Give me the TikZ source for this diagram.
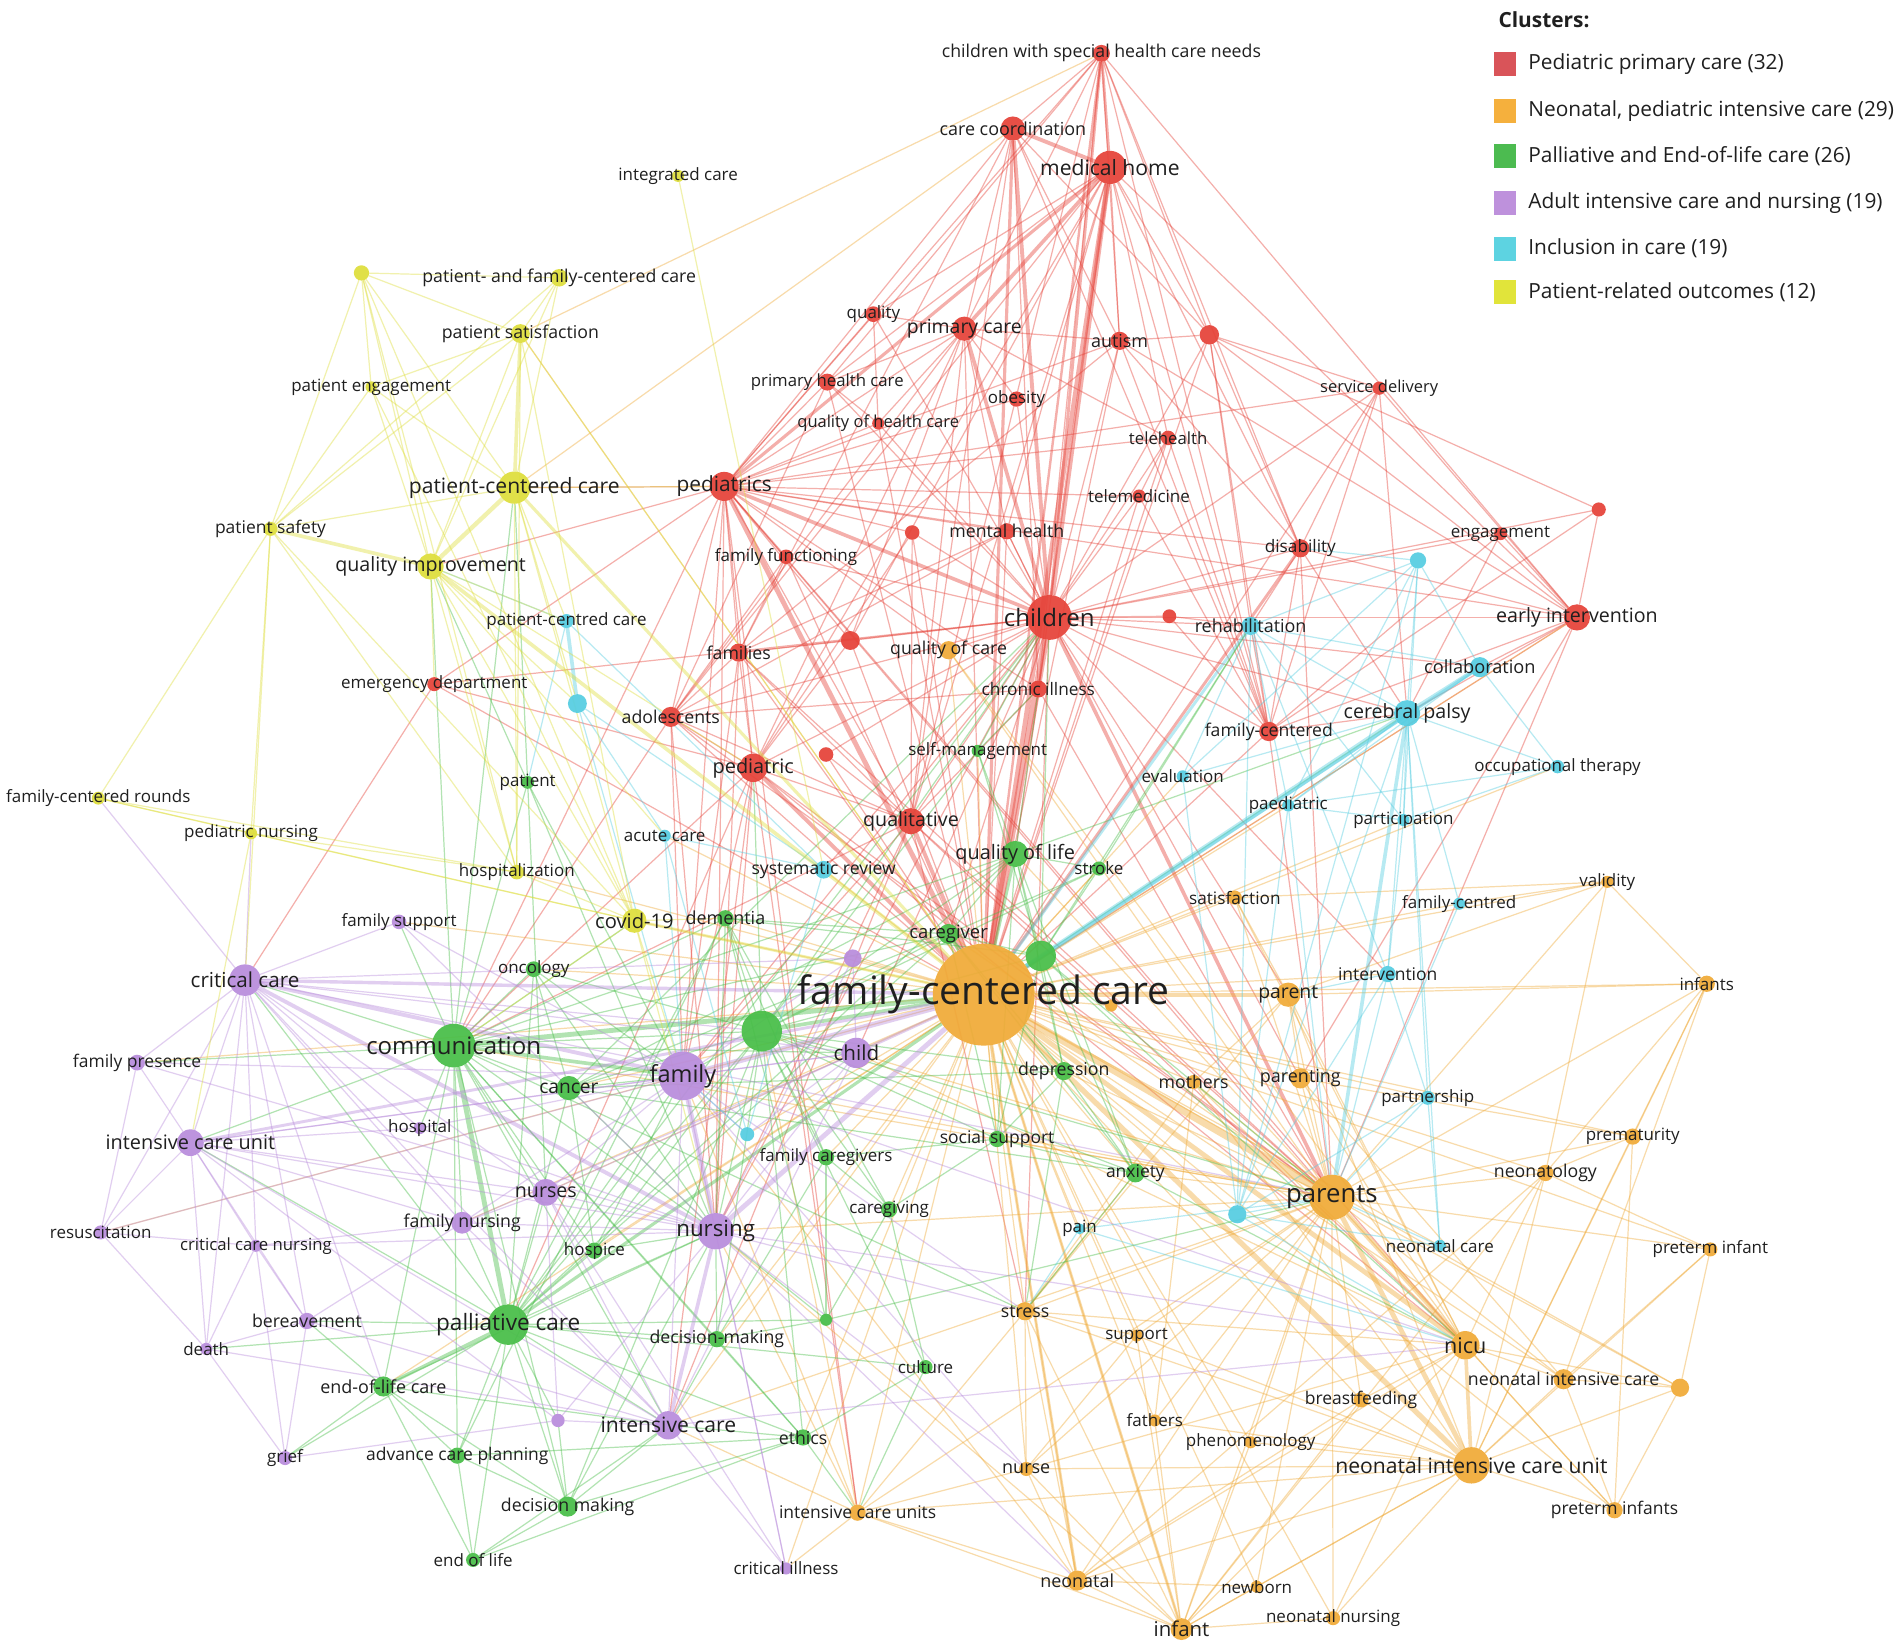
\documentclass[tikz,border=0pt]{standalone}
\usepackage{fontspec}
\setmainfont{Open Sans}
\pgfdeclarelayer{back}\pgfdeclarelayer{bg}\pgfdeclarelayer{fg}\pgfsetlayers{back,bg,main,fg}
\definecolor{colR}{RGB}{230,66,56}
\definecolor{colO}{RGB}{240,170,55}
\definecolor{colG}{RGB}{72,190,72}
\definecolor{colP}{RGB}{185,140,220}
\definecolor{colC}{RGB}{85,205,225}
\definecolor{colY}{RGB}{222,222,60}
\definecolor{legR}{RGB}{217,84,89}
\definecolor{legO}{RGB}{245,176,61}
\definecolor{legG}{RGB}{76,187,80}
\definecolor{legP}{RGB}{190,145,220}
\definecolor{legC}{RGB}{93,211,225}
\definecolor{legY}{RGB}{225,228,58}
\tikzset{
  kdot/.style={circle, inner sep=0pt, outer sep=0pt, draw=none, fill opacity=0.93},
  klab/.style={inner sep=0pt, text=black!88, anchor=center},
  kedge/.style={line width=0.5pt, draw opacity=0.42},
  legbox/.style={draw=none, minimum width=9pt, minimum height=10pt, inner sep=0pt},
  legtext/.style={anchor=west, inner sep=0pt, text=black!88, font=\fontsize{8.6}{8.6}\selectfont},
}
\newcommand\kn[7]{\node[kdot, fill=#4, minimum size=#5pt] (#1) at (#2,#3) {};
\begin{pgfonlayer}{fg}\node[klab, font=\fontsize{#6}{#6}\selectfont] (#1-l) at (#2,#3) {#7};\end{pgfonlayer}}
\newcommand\ked[2]{\foreach \ea/\eb in {#2} {\draw[kedge, draw=#1] (\ea) -- (\eb);}}
\newcommand\kedw[2]{\foreach \ea/\eb/\ew in {#2} {\draw[kedge, draw=#1, line width=\ew pt] (\ea) -- (\eb);}}
\begin{document}
\begin{tikzpicture}[x=0.5pt, y=-0.5pt]
\begin{pgfonlayer}{back}
\fill[white] (0,0) rectangle (1568,1361);
\end{pgfonlayer}
\useasboundingbox (0,0) rectangle (1568,1361);
% ---------- red
\kn{cshcn}{908}{44}{colR}{7}{7.3}{children with special health care needs}
\kn{carecoord}{835}{106}{colR}{10}{7.4}{care coordination}
\kn{medhome}{915}{138}{colR}{13.7}{8.7}{medical home}
\kn{quality}{720}{259}{colR}{6.5}{7}{quality}
\kn{primcare}{795}{271}{colR}{10}{8}{primary care}
\kn{autism}{923}{281}{colR}{7.5}{7.4}{autism}
\kn{rA}{997}{276}{colR}{8}{7}{}
\kn{phc}{682}{315}{colR}{7}{6.9}{primary health care}
\kn{obesity}{838}{329}{colR}{6.3}{7}{obesity}
\kn{qhc}{724}{349}{colR}{5}{6.8}{quality of health care}
\kn{servdel}{1137}{320}{colR}{5.5}{6.8}{service delivery}
\kn{telehealth}{963}{361}{colR}{6}{6.9}{telehealth}
\kn{pediatrics}{597}{401}{colR}{12}{8.6}{pediatrics}
\kn{telemed}{939}{409}{colR}{5.5}{7}{telemedicine}
\kn{rB}{752}{439}{colR}{6}{7}{}
\kn{menthealth}{830}{438}{colR}{6.7}{7.3}{mental health}
\kn{engagement}{1237}{440}{colR}{5.3}{7}{engagement}
\kn{rC}{1318}{420}{colR}{5.8}{7}{}
\kn{famfunc}{648}{459}{colR}{6}{7}{family functioning}
\kn{disability}{1072}{452}{colR}{7.5}{7.1}{disability}
\kn{children}{865}{509}{colR}{18.5}{9.9}{children}
\kn{rD}{964}{508}{colR}{5.7}{7}{}
\kn{earlyint}{1300}{509}{colR}{10.8}{8.1}{early intervention}
\kn{families}{609}{538}{colR}{7.5}{7.3}{families}
\kn{rE}{701}{528}{colR}{7.8}{7}{}
\kn{emergdept}{358}{564}{colR}{5.8}{7}{emergency department}
\kn{chronic}{856}{568}{colR}{7}{7.1}{chronic illness}
\kn{adolescents}{553}{591}{colR}{8.3}{7.3}{adolescents}
\kn{famcentered}{1046}{603}{colR}{8}{7.25}{family-centered}
\kn{pediatric}{621}{633}{colR}{11.7}{8.2}{pediatric}
\kn{rF}{681}{622}{colR}{6}{7}{}
\kn{qualitative}{751}{677}{colR}{10.8}{8.1}{qualitative}
% ---------- orange
\kn{fcc}{811}{820}{colO}{42}{16.1}{family-centered care}
\kn{qoc}{782}{536}{colO}{7.5}{7.3}{quality of care}
\kn{satisf}{1018}{740}{colO}{5.8}{7.1}{satisfaction}
\kn{validity}{1325}{727}{colO}{5}{7}{validity}
\kn{parent}{1062}{820}{colO}{10}{8}{parent}
\kn{infants}{1407}{811}{colO}{6.7}{7}{infants}
\kn{mothers}{984}{892}{colO}{5.8}{7.3}{mothers}
\kn{parenting}{1072}{889}{colO}{8.3}{7.4}{parenting}
\kn{prematurity}{1346}{937}{colO}{6.7}{7}{prematurity}
\kn{parents}{1098}{987}{colO}{18.6}{10.6}{parents}
\kn{neonatology}{1274}{967}{colO}{6.7}{7.3}{neonatology}
\kn{pretinf}{1410}{1030}{colO}{5.8}{7}{preterm infant}
\kn{stress}{845}{1081}{colO}{7.5}{7.3}{stress}
\kn{support}{937}{1101}{colO}{5}{7}{support}
\kn{nicu}{1208}{1109}{colO}{11.7}{8.9}{nicu}
\kn{nic}{1289}{1137}{colO}{8.3}{7.3}{neonatal intensive care}
\kn{oA}{1385}{1144}{colO}{7.5}{7}{}
\kn{breastf}{1122}{1154}{colO}{6.3}{7.2}{breastfeeding}
\kn{fathers}{952}{1171}{colO}{5}{7}{fathers}
\kn{phenom}{1031}{1189}{colO}{5}{7}{phenomenology}
\kn{nurse}{846}{1211}{colO}{5.8}{7.4}{nurse}
\kn{nicuu}{1213}{1208}{colO}{15}{8.7}{neonatal intensive care unit}
\kn{icus}{707}{1247}{colO}{6.7}{7.2}{intensive care units}
\kn{pretinfs}{1331}{1245}{colO}{6.7}{7.2}{preterm infants}
\kn{neonatal}{888}{1303}{colO}{8.3}{7.4}{neonatal}
\kn{newborn}{1036}{1308}{colO}{5}{7}{newborn}
\kn{neonurs}{1099}{1334}{colO}{5.8}{7}{neonatal nursing}
\kn{infant}{974}{1343}{colO}{9}{8.4}{infant}
\kn{oB}{916}{829}{colO}{5}{7}{}
% ---------- green
\kn{selfman}{806}{619}{colG}{5}{7}{self-management}
\kn{patient}{435}{645}{colG}{5.3}{7}{patient}
\kn{qol}{837}{704}{colG}{10.8}{8.2}{quality of life}
\kn{stroke}{906}{716}{colG}{5.8}{7}{stroke}
\kn{dementia}{598}{757}{colG}{6.7}{7.4}{dementia}
\kn{caregiver}{782}{770}{colG}{8.3}{7.6}{caregiver}
\kn{gA}{858}{788}{colG}{12.5}{7}{}
\kn{oncology}{440}{799}{colG}{6.5}{7}{oncology}
\kn{gB}{628}{850}{colG}{16.7}{7}{}
\kn{communication}{374}{862}{colG}{18}{9.9}{communication}
\kn{depression}{877}{883}{colG}{7.5}{7.3}{depression}
\kn{cancer}{469}{897}{colG}{10}{7.9}{cancer}
\kn{socsup}{822}{939}{colG}{6.7}{7.2}{social support}
\kn{famcare}{681}{954}{colG}{6.7}{7}{family caregivers}
\kn{anxiety}{936}{967}{colG}{7.8}{7.2}{anxiety}
\kn{caregiving}{733}{997}{colG}{6.7}{7}{caregiving}
\kn{hospice}{490}{1031}{colG}{6.7}{7}{hospice}
\kn{palliative}{419}{1092}{colG}{16.7}{9.3}{palliative care}
\kn{decmaking}{591}{1104}{colG}{6.7}{7.3}{decision-making}
\kn{gC}{681}{1088}{colG}{5}{7}{}
\kn{culture}{763}{1127}{colG}{5.8}{7}{culture}
\kn{eolc}{316}{1143}{colG}{8.3}{7.4}{end-of-life care}
\kn{ethics}{662}{1185}{colG}{6.7}{7.3}{ethics}
\kn{acp}{377}{1200}{colG}{6.7}{7.2}{advance care planning}
\kn{decmaking2}{468}{1242}{colG}{8.3}{7.3}{decision making}
\kn{eol}{390}{1286}{colG}{5.8}{7}{end of life}
% ---------- purple
\kn{famsupport}{329}{760}{colP}{6}{7}{family support}
\kn{pA}{703}{790}{colP}{7.3}{7}{}
\kn{critcare}{202}{808}{colP}{13}{8.5}{critical care}
\kn{child}{706}{868}{colP}{12.5}{8.5}{child}
\kn{fampresence}{113}{876}{colP}{6.5}{7.2}{family presence}
\kn{family}{563}{887}{colP}{20}{9.7}{family}
\kn{icu}{157}{942}{colP}{11}{8.2}{intensive care unit}
\kn{hospital}{346}{930}{colP}{5}{7}{hospital}
\kn{nurses}{450}{983}{colP}{11}{8.1}{nurses}
\kn{resusc}{83}{1016}{colP}{5.8}{7}{resuscitation}
\kn{famnursing}{381}{1008}{colP}{9}{7.3}{family nursing}
\kn{nursing}{590}{1015}{colP}{15}{9.2}{nursing}
\kn{ccn}{211}{1027}{colP}{5}{6.9}{critical care nursing}
\kn{bereavement}{253}{1089}{colP}{6.7}{7.3}{bereavement}
\kn{death}{170}{1112}{colP}{5}{7}{death}
\kn{pB}{460}{1171}{colP}{5.5}{7}{}
\kn{intcare}{551}{1175}{colP}{11.7}{8.7}{intensive care}
\kn{grief}{235}{1202}{colP}{5.8}{7}{grief}
\kn{critill}{648}{1293}{colP}{5}{7}{critical illness}
% ---------- cyan
\kn{cA}{1169}{462}{colC}{6.7}{7}{}
\kn{pcc2}{467}{512}{colC}{5.8}{7}{patient-centred care}
\kn{rehab}{1031}{516}{colC}{7.5}{7.4}{rehabilitation}
\kn{collab}{1220}{550}{colC}{8.3}{7.5}{collaboration}
\kn{cp}{1160}{588}{colC}{10.8}{8.1}{cerebral palsy}
\kn{cB}{476}{580}{colC}{7.8}{7}{}
\kn{ot}{1284}{632}{colC}{5.5}{7}{occupational therapy}
\kn{evaluation}{975}{640}{colC}{5}{7}{evaluation}
\kn{paediatric}{1062}{664}{colC}{5}{7}{paediatric}
\kn{particip}{1157}{676}{colC}{5}{7}{participation}
\kn{acutecare}{548}{689}{colC}{5}{7}{acute care}
\kn{sysrev}{679}{717}{colC}{7.3}{7.25}{systematic review}
\kn{famcentred}{1203}{745}{colC}{5}{7}{family-centred}
\kn{intervention}{1144}{803}{colC}{6.7}{7.2}{intervention}
\kn{partnership}{1177}{905}{colC}{5.8}{7}{partnership}
\kn{cC}{616}{935}{colC}{5.8}{7}{}
\kn{pain}{890}{1013}{colC}{4.5}{7}{pain}
\kn{cD}{1020}{1001}{colC}{7.5}{7}{}
\kn{neocare}{1187}{1027}{colC}{5}{7}{neonatal care}
% ---------- yellow
\kn{integ}{559}{145}{colY}{5}{7}{integrated care}
\kn{yA}{298}{225}{colY}{6.3}{7}{}
\kn{pfcc}{461}{229}{colY}{7.2}{7.3}{patient- and family-centered care}
\kn{patsat}{429}{275}{colY}{7.8}{7.3}{patient satisfaction}
\kn{pateng}{306}{319}{colY}{4.7}{7}{patient engagement}
\kn{pcc}{424}{402}{colY}{13.3}{8.7}{patient-centered care}
\kn{patsafety}{223}{436}{colY}{5.8}{7.2}{patient safety}
\kn{qi}{355}{467}{colY}{10.8}{8.1}{quality improvement}
\kn{fcr}{81}{658}{colY}{5.3}{7}{family-centered rounds}
\kn{pednursing}{207}{687}{colY}{5}{7}{pediatric nursing}
\kn{hospitalization}{426}{719}{colY}{6}{7}{hospitalization}
\kn{covid}{523}{759}{colY}{10}{8.3}{covid-19}
% ---------- edges
\begin{pgfonlayer}{bg}
\ked{colR}{cshcn/carecoord, cshcn/primcare, cshcn/autism, cshcn/rA, cshcn/pediatrics, cshcn/famcentered, cshcn/disability, cshcn/phc, cshcn/qualitative, cshcn/chronic, cshcn/earlyint,
carecoord/primcare, carecoord/autism, carecoord/pediatrics, carecoord/qualitative, carecoord/rA, carecoord/famcentered, carecoord/chronic, carecoord/families,
medhome/autism, medhome/rA, medhome/phc, medhome/quality, medhome/qualitative, medhome/disability, medhome/telehealth, medhome/adolescents, medhome/menthealth, medhome/famcentered, medhome/rE, medhome/pediatric, medhome/chronic, medhome/earlyint,
quality/primcare, quality/qhc, quality/pediatrics, quality/children,
primcare/autism, primcare/pediatrics, primcare/phc, primcare/obesity, primcare/qhc, primcare/menthealth, primcare/qualitative, primcare/telehealth, primcare/adolescents, primcare/pediatric, primcare/rE, primcare/fcc,
autism/rA, autism/children, autism/disability, autism/fcc, autism/families, autism/pediatrics, autism/famcentered, autism/earlyint,
rA/children, rA/disability, rA/earlyint, rA/rehab, rA/famcentered, rA/fcc, rA/servdel,
phc/pediatrics, phc/children, phc/qhc, phc/fcc, phc/adolescents,
obesity/children, obesity/pediatrics, qhc/children, qhc/pediatrics, qhc/fcc,
servdel/children, servdel/disability, servdel/earlyint, servdel/famcentered, servdel/pediatrics, servdel/cp, servdel/fcc,
telehealth/children, telehealth/pediatrics, telehealth/telemed, telehealth/fcc, telehealth/famcentered,
pediatrics/families, pediatrics/adolescents, pediatrics/pediatric, pediatrics/qualitative, pediatrics/famfunc, pediatrics/rB, pediatrics/menthealth, pediatrics/telemed, pediatrics/parents, pediatrics/family, pediatrics/pcc, pediatrics/qi, pediatrics/communication, pediatrics/nursing, pediatrics/rE, pediatrics/chronic, pediatrics/disability, pediatrics/qoc, pediatrics/emergdept, pediatrics/icus, pediatrics/nicu, pediatrics/earlyint,
telemed/children, telemed/fcc, telemed/famcentered,
rB/children, rB/fcc, rB/pediatric, rB/qualitative,
menthealth/children, menthealth/fcc, menthealth/adolescents, menthealth/families,
engagement/earlyint, engagement/children, engagement/cp, engagement/famcentered,
rC/earlyint, rC/children, rC/famcentered, rC/rA,
famfunc/children, famfunc/fcc, famfunc/families, famfunc/adolescents,
disability/children, disability/famcentered, disability/rehab, disability/cp, disability/earlyint, disability/parents,
children/families, children/adolescents, children/pediatric, children/qualitative, children/chronic, children/rD, children/earlyint, children/rehab, children/famcentered, children/cp, children/rE, children/qoc, children/qol, children/family, children/nursing, children/parent, children/collab, children/sysrev, children/caregiver, children/intervention, children/parenting, children/child, children/stress, children/menthealth,
rD/rehab, rD/famcentered,
earlyint/famcentered, earlyint/cp, earlyint/collab, earlyint/parents, earlyint/fcc, earlyint/parenting,
families/fcc, families/adolescents, families/pediatric, families/qualitative, families/parents, families/nursing, families/family,
rE/fcc, rE/pediatric, rE/families,
emergdept/fcc, emergdept/pediatric, emergdept/children, emergdept/critcare,
chronic/fcc, chronic/adolescents, chronic/qualitative, chronic/parents,
adolescents/fcc, adolescents/pediatric, adolescents/qualitative, adolescents/family, adolescents/parents, adolescents/communication, adolescents/nursing,
famcentered/fcc, famcentered/cp, famcentered/parents, famcentered/rehab,
pediatric/qualitative, pediatric/nursing, pediatric/family, pediatric/parents, pediatric/nicu, pediatric/communication, pediatric/intcare, pediatric/icus, pediatric/palliative,
rF/fcc, rF/children, rF/qualitative,
qualitative/parents, qualitative/nursing, qualitative/family, qualitative/nicu, qualitative/intcare, qualitative/stress, qualitative/communication}
\kedw{colR}{medhome/children/2, medhome/fcc/2, carecoord/medhome/1.6, carecoord/children/1.6, primcare/children/1.5, medhome/primcare/1.5, medhome/pediatrics/1.3, pediatrics/children/1.5, pediatrics/fcc/2, children/fcc/3, children/parents/1.5, cshcn/medhome/1.2, cshcn/children/1.2, cshcn/fcc/1, carecoord/fcc/1.3, pediatric/fcc/1.6, qualitative/fcc/1.6, disability/fcc/1.2}
\ked{colO}{cshcn/patsat, carecoord/pcc, fcc/satisf, fcc/mothers, fcc/parenting, fcc/neonatology, fcc/stress, fcc/nurse, fcc/neonatal, fcc/infant, fcc/icus, fcc/support, fcc/breastf, fcc/nic, fcc/pretinf, fcc/prematurity, fcc/infants, fcc/validity, fcc/intervention, fcc/partnership, fcc/depression, fcc/anxiety, fcc/socsup, fcc/sysrev, fcc/covid, fcc/patsat, fcc/famnursing, fcc/decmaking, fcc/ethics, fcc/dementia, fcc/cancer, fcc/hospice, fcc/eolc, fcc/pain, fcc/cD, fcc/famcare, fcc/caregiving, fcc/particip, fcc/famcentred, fcc/paediatric, fcc/evaluation, fcc/ot, fcc/intcare, fcc/nurses, fcc/caregiver, fcc/earlyint, fcc/fathers, fcc/phenom, fcc/newborn, fcc/neonurs, fcc/pretinfs, fcc/oA, fcc/critill, fcc/acutecare, fcc/famsupport, fcc/fampresence, fcc/resusc, fcc/hospitalization, fcc/oncology, fcc/selfman, fcc/stroke, fcc/pA, fcc/cC, fcc/oB, fcc/neocare,
qoc/fcc, qoc/parents, qoc/nicu,
satisf/parents, satisf/nicu, satisf/parent, satisf/validity,
validity/parent, validity/infants, validity/parents, validity/famcentred, validity/neonatology,
parent/parents, parent/infants, parent/nicu, parent/parenting, parent/mothers, parent/stress, parent/nicuu,
infants/parents, infants/nicuu, infants/prematurity, infants/neonatology, infants/nic,
mothers/parents, mothers/nicu, mothers/stress, mothers/fathers, mothers/nicuu,
parenting/parents, parenting/nicu, parenting/prematurity, parenting/nic,
prematurity/parents, prematurity/nicuu, prematurity/neonatology, prematurity/pretinfs,
parents/neonatology, parents/stress, parents/support, parents/nurse, parents/neonatal, parents/infant, parents/icus, parents/nic, parents/breastf, parents/fathers, parents/phenom, parents/pretinf, parents/pretinfs, parents/oA, parents/newborn, parents/neonurs, parents/nursing, parents/family, parents/child, parents/communication, parents/intcare, parents/qol, parents/caregiver, parents/anxiety, parents/depression, parents/socsup,
neonatology/nicu, neonatology/nicuu, neonatology/pretinf, neonatology/infant, neonatology/neonatal,
pretinf/nicuu, pretinf/oA, pretinf/nic,
stress/nicu, stress/nicuu, stress/nurse, stress/neonatal, stress/infant, stress/support, stress/icus, stress/anxiety,
support/nicuu, support/infant, support/nurse,
nicu/nic, nicu/breastf, nicu/infant, nicu/neonatal, nicu/nurse, nicu/pretinfs, nicu/oA, nicu/neonurs,
nic/nicuu, nic/pretinfs, nic/oA, oA/nicuu, oA/pretinfs,
breastf/nicuu, breastf/infant, breastf/neonatal,
fathers/nicuu, fathers/infant, phenom/nicuu, phenom/infant,
nurse/nicuu, nurse/neonatal, nurse/infant, nurse/icus,
nicuu/neonatal, nicuu/infant, nicuu/newborn, nicuu/neonurs, nicuu/pretinfs, nicuu/icus,
icus/neonatal, icus/infant, icus/critill, icus/intcare, icus/nursing, icus/gB,
neonatal/infant, neonatal/newborn, newborn/infant, neonurs/infant, icus/family, neonatal/family, infant/nursing, nicu/child}
\kedw{colO}{fcc/parents/3, fcc/parent/1.5, fcc/nicu/2, fcc/nicuu/2.2, parents/nicu/2, parents/nicuu/2, nicu/nicuu/1.5, fcc/neonatal/1.2, fcc/infant/1.2}
\ked{colG}{communication/critcare, communication/icu, communication/nursing, communication/nurses, communication/famnursing, communication/eolc, communication/cancer, communication/oncology, communication/gB, communication/decmaking, communication/intcare, communication/ethics, communication/hospice, communication/patient, communication/pcc, communication/qi, communication/acp, communication/decmaking2, communication/dementia, communication/covid, communication/famsupport, communication/fampresence, communication/hospital, communication/qol, communication/caregiver, communication/child, communication/stress,
palliative/acp, palliative/decmaking2, palliative/eol, palliative/hospice, palliative/cancer, palliative/family, palliative/nursing, palliative/nurses, palliative/famnursing, palliative/intcare, palliative/gB, palliative/bereavement, palliative/decmaking, palliative/ethics, palliative/critcare, palliative/icu, palliative/qol, palliative/caregiver, palliative/dementia, palliative/oncology, palliative/death, palliative/grief, palliative/pB, palliative/culture, palliative/gC,
eolc/acp, eolc/decmaking2, eolc/eol, eolc/bereavement, eolc/grief, eolc/intcare, eolc/nursing,
acp/eol, acp/decmaking2, acp/dementia, acp/ethics,
decmaking2/eol, decmaking2/intcare, decmaking2/ethics, decmaking2/nursing, decmaking2/gB, decmaking2/pB,
eol/intcare, eol/ethics,
hospice/cancer, hospice/gB, hospice/family,
cancer/family, cancer/gB, cancer/qol, cancer/oncology, cancer/caregiver, cancer/nursing, cancer/depression, cancer/anxiety,
oncology/gB, oncology/family,
gB/family, gB/caregiver, gB/qol, gB/dementia, gB/nursing, gB/child, gB/famcare, gB/caregiving, gB/socsup, gB/depression, gB/anxiety, gB/decmaking, gB/gA, gB/stroke, gB/selfman, gB/ethics, gB/culture,
gA/qol, gA/caregiver, gA/depression, gA/anxiety, gA/socsup, gA/stroke, gA/dementia, gA/selfman, gA/cp, gA/parents, gA/rehab,
qol/caregiver, qol/stroke, qol/selfman, qol/depression, qol/anxiety, qol/socsup, qol/cp, qol/chronic,
caregiver/dementia, caregiver/stroke, caregiver/depression, caregiver/socsup, caregiver/anxiety,
dementia/caregiving, dementia/famcare, dementia/gC,
depression/anxiety, depression/socsup, depression/stress,
anxiety/stress, anxiety/socsup, anxiety/nicu,
socsup/famcare, socsup/caregiving,
famcare/caregiving, famcare/gC, famcare/decmaking,
caregiving/gC, caregiving/culture,
decmaking/intcare, decmaking/ethics, decmaking/nursing, decmaking/gC,
ethics/intcare, ethics/culture, ethics/icus, culture/icus,
patient/nurses, patient/qi, patient/pcc, patient/nursing, patient/family,
selfman/chronic, selfman/children, stroke/rehab,
gB/children, gB/pediatric, gB/parents, cancer/children, palliative/children, gA/children, gA/nicu, dementia/nursing, oncology/nursing, hospice/nursing, gC/nursing, gC/parents}
\kedw{colG}{communication/palliative/2, communication/family/1.5, communication/fcc/2, palliative/eolc/1.5, gB/fcc/1.5, gA/fcc/1.5, qol/fcc/1.2, palliative/fcc/1.3, caregiver/fcc/1}
\ked{colP}{critcare/icu, critcare/fampresence, critcare/nurses, critcare/famnursing, critcare/intcare, critcare/resusc, critcare/ccn, critcare/famsupport, critcare/hospital, critcare/bereavement, critcare/death, critcare/fcr, critcare/pednursing, critcare/child, critcare/gB, critcare/pA, critcare/eolc,
fampresence/icu, fampresence/resusc, fampresence/family, fampresence/nursing,
icu/family, icu/nursing, icu/nurses, icu/resusc, icu/famnursing, icu/intcare, icu/ccn, icu/death, icu/bereavement, icu/hospital, icu/pB, icu/child,
resusc/ccn, resusc/death, resusc/family,
famnursing/family, famnursing/nursing, famnursing/nurses, famnursing/ccn, famnursing/bereavement, famnursing/intcare, famnursing/child,
nurses/family, nurses/nursing, nurses/intcare, nurses/child, nurses/pB, nurses/critill,
family/child, family/intcare, family/pA, family/nicu, family/cC, family/famsupport, family/hospital, family/critill, family/nurse,
nursing/child, nursing/critill, nursing/pA, nursing/pB, nursing/ccn, nursing/stress, nursing/nurse, nursing/neonatal, nursing/nicu,
ccn/death, ccn/bereavement, ccn/grief,
bereavement/death, bereavement/grief, bereavement/intcare,
death/grief, death/intcare, grief/pB,
intcare/critill, intcare/pB, intcare/child,
child/pA, child/cC, famsupport/nursing, hospital/nursing, intcare/nicu, family/stress, critcare/parents}
\kedw{colP}{critcare/family/1.6, critcare/nursing/1.6, critcare/fcc/1.4, family/nursing/2, family/fcc/2.2, nursing/fcc/2, nursing/intcare/1.5, icu/fcc/1.2, child/fcc/1.2}
\ked{colC}{cp/rehab, cp/ot, cp/particip, cp/paediatric, cp/intervention, cp/famcentred, cp/cA, cp/evaluation, cp/cD, cp/partnership, cp/neocare,
collab/cA, collab/rehab, collab/ot, collab/paediatric,
rehab/cA, rehab/paediatric, rehab/evaluation, rehab/particip, rehab/cD, rehab/intervention,
cA/paediatric, cA/particip, cA/evaluation, cA/disability, cA/cD,
ot/particip, ot/paediatric, particip/paediatric, particip/intervention,
evaluation/cD, paediatric/cD, paediatric/parents,
intervention/parents, intervention/cD, intervention/partnership, intervention/parent,
famcentred/parents, partnership/cD, partnership/parents,
neocare/parents, neocare/cD, neocare/partnership,
cD/parents, cD/nicu, pain/nicu, pain/parents, pain/stress,
sysrev/acutecare, sysrev/cB, sysrev/pcc2, sysrev/cC,
cB/acutecare, cB/family, pcc2/qi, pcc2/patient,
acutecare/cC, acutecare/family, cC/family}
\kedw{colC}{cp/collab/1.8, cp/parents/1.5, cp/fcc/2.2, pcc2/cB/1.5, collab/fcc/1.2, rehab/fcc/1.2}
\ked{colY}{yA/pfcc, yA/patsat, yA/pateng, yA/pcc, yA/patsafety, yA/qi, yA/covid, yA/hospitalization,
pfcc/patsat, pfcc/pcc, pfcc/qi, pfcc/patsafety, integ/sysrev,
patsat/qi, patsat/pateng, patsat/patsafety, patsat/covid, patsat/hospitalization, patsat/fcc,
pateng/pcc, pateng/qi, pateng/patsafety, pateng/covid,
pcc/patsafety, pcc/covid, pcc/hospitalization, pcc/cB, pcc/pediatrics, pcc/pcc2,
patsafety/fcr, patsafety/pednursing, patsafety/hospitalization, patsafety/covid, patsafety/critcare,
qi/covid, qi/hospitalization, qi/pcc2, qi/cB, qi/emergdept, qi/acutecare, qi/pediatric,
fcr/pednursing, fcr/hospitalization, fcr/covid,
pednursing/hospitalization, pednursing/covid, pednursing/icu,
hospitalization/covid, covid/family, covid/nursing, covid/communication, covid/dementia}
\kedw{colY}{patsat/pcc/1.5, pcc/qi/1.8, patsafety/qi/1.5, qi/fcc/1.5, pcc/fcc/1.3, covid/fcc/1.2}
\end{pgfonlayer}
% ---------- legend
\node[anchor=west, inner sep=0pt, text=black!88, font=\fontsize{8.6}{8.6}\selectfont\bfseries] (legtitle) at (1235,16) {Clusters:};
\node[legbox, fill=legR] (lb1) at (1241,52.6) {};
\node[legtext] (lt1) at (1259.6,52.6) {Pediatric primary care (32)};
\node[legbox, fill=legO] (lb2) at (1241,91.4) {};
\node[legtext] (lt2) at (1259.6,91.4) {Neonatal, pediatric intensive care (29)};
\node[legbox, fill=legG] (lb3) at (1241,128.9) {};
\node[legtext] (lt3) at (1259.6,128.9) {Palliative and End-of-life care (26)};
\node[legbox, fill=legP] (lb4) at (1241,167.2) {};
\node[legtext] (lt4) at (1259.6,167.2) {Adult intensive care and nursing (19)};
\node[legbox, fill=legC] (lb5) at (1241,205) {};
\node[legtext] (lt5) at (1259.6,205) {Inclusion in care (19)};
\node[legbox, fill=legY] (lb6) at (1241,240.7) {};
\node[legtext] (lt6) at (1259.6,240.7) {Patient-related outcomes (12)};
\end{tikzpicture}
\end{document}
